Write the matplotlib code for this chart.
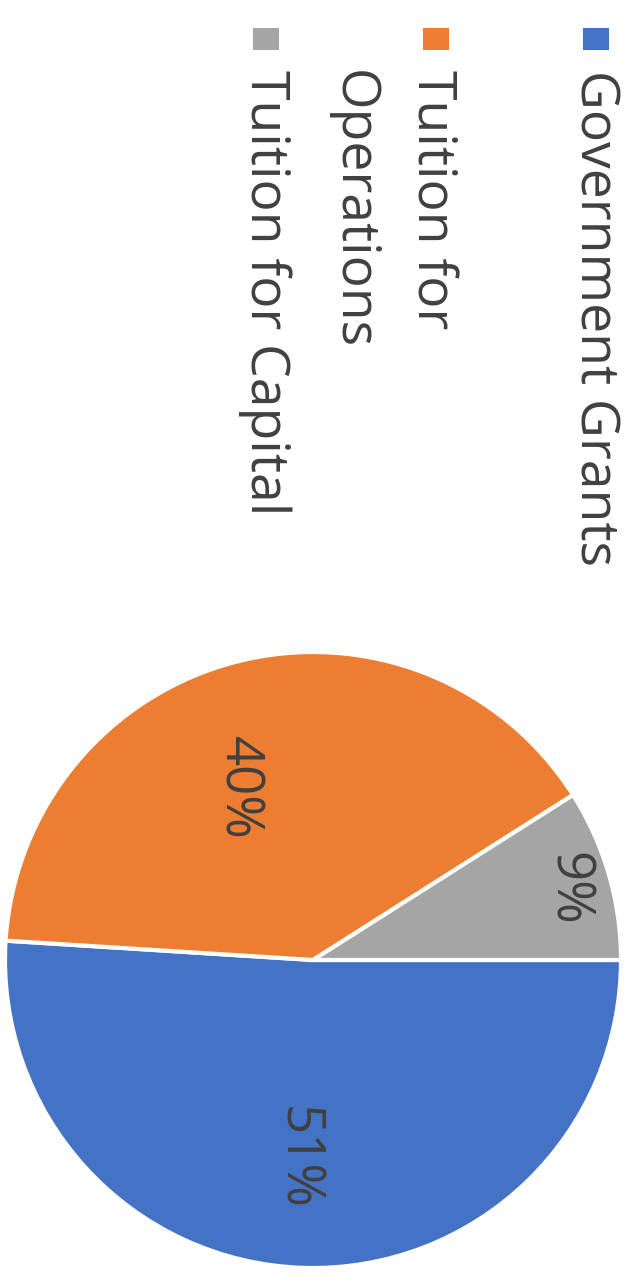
import matplotlib

matplotlib.use("Agg")
import matplotlib.pyplot as plt
import numpy as np
from matplotlib.patches import Rectangle

plt.rcParams["font.family"] = ["Open Sans", "DejaVu Sans"]

# 数据
categories = ["Government Grants", "Tuition for\nOperations", "Tuition for Capital"]
shares = [51, 40, 9]
colors = ["#4472C4", "#ED7D31", "#A5A5A5"]
TEXT_COLOR = "#404040"

W, H = 637, 1279
fig = plt.figure(figsize=(W / 100, H / 100), dpi=100)
ax = fig.add_axes([0, 0, 1, 1])

# 整张图顺时针旋转了 90°，所以饼图起点在右侧、顺时针排布
center = (313, H - 960)
radius = 308
wedges, texts, autotexts = ax.pie(
    shares,
    colors=colors,
    startangle=0,
    counterclock=False,
    center=center,
    radius=radius,
    autopct="%d%%",
    pctdistance=0.65,
    wedgeprops=dict(edgecolor="white", linewidth=3),
    textprops=dict(color=TEXT_COLOR, fontsize=38, rotation=-90),
)

# 标签位置微调（半径比例, 角度）
label_pos = [(0.645, -94.6), (0.61, 113.6), (0.857, 15.6)]
for t, (r, a) in zip(autotexts, label_pos):
    t.set_position((center[0] + r * radius * np.cos(np.radians(a)),
                    center[1] + r * radius * np.sin(np.radians(a))))
    t.set_ha("center")
    t.set_va("center")

# 图例（旋转）
legend_x = [596, 436, 266]
text_x = [594, 458, 265]
for x, tx, label, c in zip(legend_x, text_x, categories, colors):
    ax.add_patch(Rectangle((x - 13, H - 50), 26, 22, color=c, lw=0))
    ax.text(tx, H - 70, label, rotation=-90, ha="right" if "\n" in label else "center",
            va="top", fontsize=38.5, color=TEXT_COLOR, linespacing=1.62,
            multialignment="left")

ax.set_xlim(0, W)
ax.set_ylim(0, H)
ax.set_aspect("equal")
ax.axis("off")

fig.savefig("out.png", dpi=100, facecolor="white")
